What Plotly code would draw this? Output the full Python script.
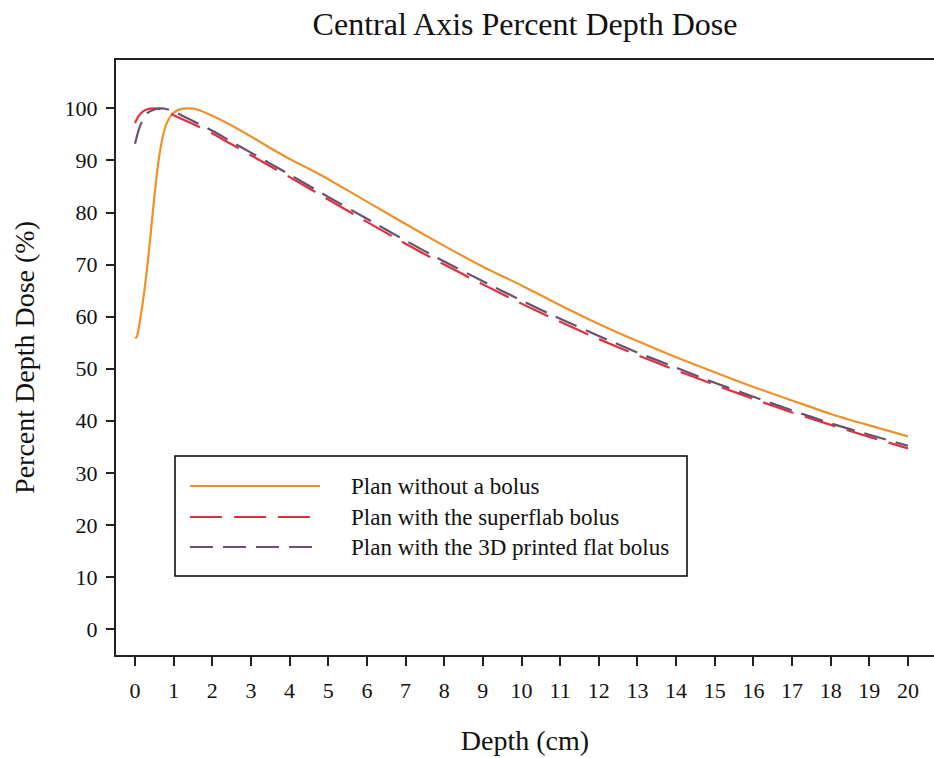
import plotly.graph_objects as go

# Depth (cm) and percent depth dose values
depth_none = [0, 0.05, 0.1, 0.2, 0.3, 0.4, 0.5, 0.6, 0.7, 0.8, 0.9, 1.0, 1.2, 1.4, 1.6, 2, 2.5, 3, 3.5, 4, 4.5, 5, 6, 7, 8, 9, 10, 11, 12, 13, 14, 15, 16, 17, 18, 19, 20]
pdd_none = [55.8, 56.2, 58.0, 62.7, 68.5, 75.5, 83.0, 89.5, 94.0, 96.8, 98.3, 99.2, 99.9, 100.0, 99.8, 98.6, 96.7, 94.6, 92.4, 90.3, 88.4, 86.4, 82.1, 77.8, 73.6, 69.6, 66.0, 62.2, 58.6, 55.3, 52.2, 49.3, 46.5, 43.9, 41.3, 39.1, 37.0]

depth_superflab = [0, 0.1, 0.2, 0.3, 0.5, 0.7, 1.0, 1.5, 2, 2.5, 3, 3.5, 4, 5, 6, 7, 8, 9, 10, 11, 12, 13, 14, 15, 16, 17, 18, 19, 20]
pdd_superflab = [97.2, 98.6, 99.4, 99.8, 100.0, 99.8, 98.7, 97.0, 95.2, 93.1, 91.0, 88.9, 86.8, 82.5, 78.2, 74.0, 70.0, 66.2, 62.5, 59.0, 55.7, 52.6, 49.7, 46.9, 44.2, 41.6, 39.2, 36.9, 34.7]

depth_printed = [0, 0.1, 0.2, 0.3, 0.5, 0.7, 0.9, 1.2, 1.5, 2, 2.5, 3, 3.5, 4, 5, 6, 7, 8, 9, 10, 11, 12, 13, 14, 15, 16, 17, 18, 19, 20]
pdd_printed = [93.2, 96.0, 97.8, 99.0, 99.8, 100.0, 99.7, 98.7, 97.6, 95.7, 93.6, 91.5, 89.4, 87.3, 83.0, 78.8, 74.6, 70.6, 66.8, 63.1, 59.6, 56.3, 53.1, 50.2, 47.3, 44.6, 42.0, 39.5, 37.3, 35.2]

series_names = ["Plan without a bolus", "Plan with the superflab bolus", "Plan with the 3D printed flat bolus"]
x_ticks = list(range(0, 21))
y_ticks = list(range(0, 101, 10))

styles = [
    dict(color="#F0902A", width=2.2, dash="solid"),
    dict(color="#E0303C", width=2.2, dash="32px,12px"),
    dict(color="#6A4F70", width=2.2, dash="23px,10px"),
]

FONT = "Liberation Serif, Times New Roman, serif"

fig = go.Figure()
for name, xs, ys, st in zip(series_names,
                            [depth_none, depth_superflab, depth_printed],
                            [pdd_none, pdd_superflab, pdd_printed], styles):
    fig.add_trace(go.Scatter(x=xs, y=ys, mode="lines", name=name,
                             line=dict(color=st["color"], width=st["width"], dash=st["dash"], shape="spline", smoothing=0.6),
                             showlegend=False))

# custom legend (box, samples and labels in paper coordinates)
W, H = 934, 758
L, R, T, B = 116, 0, 60, 103
pw, ph = W - L - R, H - T - B
def px(x):
    return (x - L) / pw
def py(y):
    return (H - B - y) / ph

fig.add_shape(type="rect", xref="paper", yref="paper",
              x0=px(175), x1=px(687), y0=py(576), y1=py(456),
              line=dict(color="black", width=1.5), fillcolor="white", layer="above")
rows = [486, 517, 547]
for name, st, ry in zip(series_names, styles, rows):
    fig.add_shape(type="line", xref="paper", yref="paper",
                  x0=px(190), x1=px(320), y0=py(ry), y1=py(ry),
                  line=dict(color=st["color"], width=2, dash=st["dash"]), layer="above")
    fig.add_annotation(xref="paper", yref="paper", x=px(349), y=py(ry),
                       text=name, showarrow=False, xanchor="left", yanchor="middle",
                       font=dict(family=FONT, size=23, color="#111"))

fig.update_layout(
    width=W, height=H,
    margin=dict(l=L, r=R, t=T, b=B),
    paper_bgcolor="white", plot_bgcolor="white",
    font=dict(family=FONT, color="#111"),
    title=dict(text="Central Axis Percent Depth Dose", x=(L + pw / 2) / W, xanchor="center",
               y=1 - 24 / H, yanchor="middle", yref="container",
               font=dict(family=FONT, size=32, color="#111")),
)
fig.update_xaxes(range=[-0.492, 20.673], tickvals=x_ticks, ticktext=[str(v) for v in x_ticks],
                 showgrid=False, zeroline=False, showline=True, linecolor="#222", linewidth=2,
                 mirror=True, ticks="outside", ticklen=9, tickwidth=2, tickcolor="#222",
                 ticklabelstandoff=6,
                 tickfont=dict(family=FONT, size=22, color="#111"),
                 title=dict(text="Depth (cm)", font=dict(family=FONT, size=28, color="#111"), standoff=28))
fig.update_yaxes(range=[-5, 109.3], tickvals=y_ticks, ticktext=[str(v) for v in y_ticks],
                 showgrid=False, zeroline=False, showline=True, linecolor="#222", linewidth=2,
                 ticks="outside", ticklen=8, tickwidth=2, tickcolor="#222",
                 ticklabelstandoff=4,
                 tickfont=dict(family=FONT, size=22, color="#111"),
                 title=dict(text="Percent Depth Dose (%)", font=dict(family=FONT, size=28, color="#111"), standoff=22))

fig.write_html("out.html")
